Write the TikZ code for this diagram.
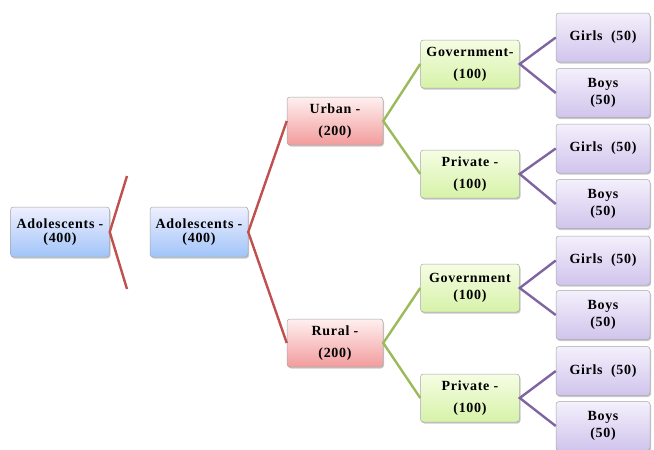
\documentclass[tikz,border=0pt]{standalone}
\usepackage{fontspec}
\setmainfont{Liberation Serif}
\newfontfamily\boxfont[LetterSpace=5]{Liberation Serif}
\usetikzlibrary{shadows}
\definecolor{redline}{HTML}{C0504D}
\definecolor{greenline}{HTML}{9BBB59}
\definecolor{purpleline}{HTML}{8064A2}
\tikzset{
  box/.style={draw=black!35, line width=0.5pt, rounded corners=3pt, align=center,
    font=\boxfont\bfseries\fontsize{14}{22}\selectfont, inner sep=1pt,
    drop shadow={shadow xshift=1pt, shadow yshift=-1.5pt, fill=black!35, opacity=0.6}},
  tight/.style={font=\boxfont\bfseries\fontsize{14}{13.5}\selectfont},
  mid/.style={font=\boxfont\bfseries\fontsize{14}{17}\selectfont},
  bluebox/.style={box, top color=blue!6, bottom color={rgb,255:red,160;green,196;blue,248}},
  redbox/.style={box, top color=red!6, bottom color={rgb,255:red,242;green,156;blue,156}},
  greenbox/.style={box, top color={rgb,255:red,246;green,253;blue,228}, bottom color={rgb,255:red,214;green,242;blue,168}},
  purplebox/.style={box, top color={rgb,255:red,244;green,240;blue,252}, bottom color={rgb,255:red,208;green,196;blue,236}},
  redcon/.style={draw=redline, line width=2.4pt},
  greencon/.style={draw=greenline, line width=2.4pt},
  purplecon/.style={draw=purpleline, line width=2.4pt},
}
\begin{document}
\begin{tikzpicture}[x=1pt,y=-1pt]
\useasboundingbox (0,0) rectangle (654,450);
% nodes
\node[bluebox, tight, minimum width=99pt, minimum height=50pt] (a1) at (60,232) {Adolescents -\\(400)};
\node[bluebox, tight, minimum width=98pt, minimum height=50pt] (a2) at (199,232) {Adolescents -\\(400)};
\node[redbox, minimum width=96pt, minimum height=48pt] (urban) at (335,121) {Urban -\\(200)};
\node[redbox, minimum width=96pt, minimum height=48pt] (rural) at (335,343) {Rural -\\(200)};
\node[greenbox, minimum width=99pt, minimum height=48pt] (gov1) at (470,64) {Government-\\(100)};
\node[greenbox, minimum width=99pt, minimum height=48pt] (pri1) at (470,174) {Private -\\(100)};
\node[greenbox, mid, minimum width=99pt, minimum height=48pt] (gov2) at (470,288) {Government\\(100)};
\node[greenbox, minimum width=99pt, minimum height=48pt] (pri2) at (470,398) {Private -\\(100)};
\node[purplebox, minimum width=94pt, minimum height=49pt] (g1) at (603,37.5) {Girls\ \ (50)};
\node[purplebox, mid, minimum width=94pt, minimum height=49pt] (b1) at (603,93) {Boys\\(50)};
\node[purplebox, minimum width=94pt, minimum height=49pt] (g2) at (603,148.5) {Girls\ \ (50)};
\node[purplebox, mid, minimum width=94pt, minimum height=49pt] (b2) at (603,204) {Boys\\(50)};
\node[purplebox, minimum width=94pt, minimum height=49pt] (g3) at (603,260.5) {Girls\ \ (50)};
\node[purplebox, mid, minimum width=94pt, minimum height=49pt] (b3) at (603,315) {Boys\\(50)};
\node[purplebox, minimum width=94pt, minimum height=49pt] (g4) at (603,371) {Girls\ \ (50)};
\node[purplebox, mid, minimum width=94pt, minimum height=49pt] (b4) at (603,426) {Boys\\(50)};
% free ends
\coordinate (c1) at (127,176);
\coordinate (c2) at (127,289);
% connectors
\draw[redcon] (c1) -- (a1.east) -- (c2);
\draw[redcon] (urban.west) -- (a2.east) -- (rural.west);
\draw[greencon] (gov1.west) -- (urban.east) -- (pri1.west);
\draw[greencon] (gov2.west) -- (rural.east) -- (pri2.west);
\draw[purplecon] (g1.west) -- (gov1.east) -- (b1.west);
\draw[purplecon] (g2.west) -- (pri1.east) -- (b2.west);
\draw[purplecon] (g3.west) -- (gov2.east) -- (b3.west);
\draw[purplecon] (g4.west) -- (pri2.east) -- (b4.west);
\end{tikzpicture}
\end{document}
